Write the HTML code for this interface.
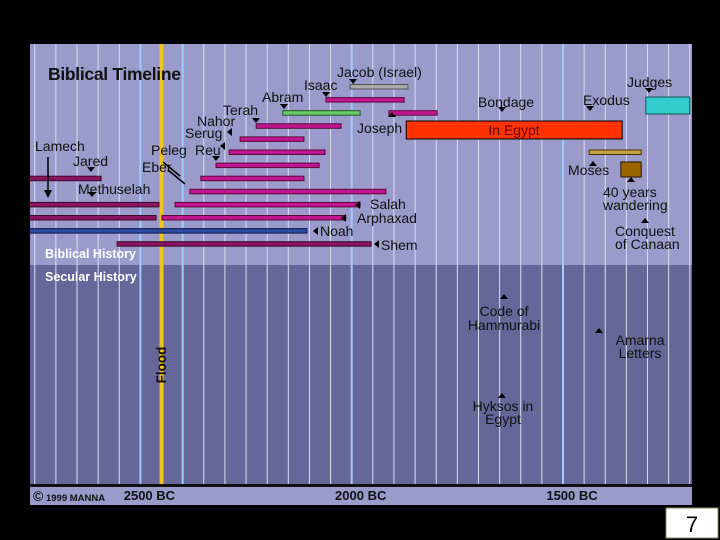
<!DOCTYPE html>
<html><head><meta charset="utf-8"><style>
html,body{margin:0;padding:0;background:#000;width:720px;height:540px;overflow:hidden}
svg{display:block}
text{font-family:"Liberation Sans",Arial,sans-serif}
</style></head><body>
<svg id="chart" width="720" height="540" viewBox="0 0 720 540">
<rect x="0" y="0" width="720" height="540" fill="#000"/>
<defs><clipPath id="plotclip"><rect x="30" y="44" width="662" height="441"/></clipPath></defs>
<rect x="30" y="44" width="662" height="221" fill="#9a9acb"/>
<rect x="30" y="265" width="662" height="220" fill="#666699"/>
<g id="grid" clip-path="url(#plotclip)"></g>
<rect x="30" y="487" width="662" height="18" fill="#9a9acb"/>
<g id="bars" clip-path="url(#plotclip)"></g>
<g id="ticks"></g>
<g font-size="14" fill="#111">
<text x="48" y="80" font-size="17.5" font-weight="bold" letter-spacing="-0.3">Biblical Timeline</text>
<text x="337" y="77">Jacob (Israel)</text>
<text x="304" y="90">Isaac</text>
<text x="262" y="102">Abram</text>
<text x="223" y="115">Terah</text>
<text x="197" y="126">Nahor</text>
<text x="185" y="138">Serug</text>
<text x="195" y="155">Reu</text>
<text x="151" y="155">Peleg</text>
<text x="35" y="151">Lamech</text>
<text x="73" y="166">Jared</text>
<text x="142" y="172">Eber</text>
<text x="78" y="194">Methuselah</text>
<text x="370" y="209">Salah</text>
<text x="357" y="223">Arphaxad</text>
<text x="320" y="236">Noah</text>
<text x="381" y="250">Shem</text>
<text x="357" y="133">Joseph</text>
<text x="478" y="107">Bondage</text>
<text x="583" y="105">Exodus</text>
<text x="627" y="87">Judges</text>
<text x="568" y="175">Moses</text>
<text x="603" y="197">40 years</text>
<text x="603" y="210">wandering</text>
<text x="615" y="236">Conquest</text>
<text x="615" y="249">of Canaan</text>
<text x="504" y="316" text-anchor="middle">Code of</text>
<text x="504" y="330" text-anchor="middle">Hammurabi</text>
<text x="640" y="345" text-anchor="middle">Amarna</text>
<text x="640" y="358" text-anchor="middle">Letters</text>
<text x="503" y="411" text-anchor="middle">Hyksos in</text>
<text x="503" y="424" text-anchor="middle">Egypt</text>
<text x="45" y="258" fill="#fff" font-weight="bold" font-size="12.5">Biblical History</text>
<text x="45" y="281" fill="#fff" font-weight="bold" font-size="12.5">Secular History</text>
<text x="33" y="501" font-size="14" font-weight="bold">©<tspan font-size="9.5"> 1999 MANNA</tspan></text>
</g>
<g id="flood-label-g"><text transform="translate(166,365) rotate(-90)" text-anchor="middle" font-weight="bold" font-size="13.5" fill="#111">Flood</text></g>
<g fill="#000">
<path d="M349,79 l8,0 l-4,5z M322,92 l8,0 l-4,5z M280,104 l8,0 l-4,5z M252,118 l8,0 l-4,5z M88,192 l8,0 l-4,5z M87,167 l8,0 l-4,5z M212,156 l8,0 l-4,5z M498,107 l8,0 l-4,5z M586,106 l8,0 l-4,5z M645,88 l8,0 l-4,5z"/>
<path d="M388,117 l8,0 l-4,-5z M589,166 l8,0 l-4,-5z M627,182 l8,0 l-4,-5z M641,223 l8,0 l-4,-5z M500,299 l8,0 l-4,-5z M595,333 l8,0 l-4,-5z M498,398 l8,0 l-4,-5z"/>
<path d="M360,201 l0,8 l-5,-4z M346,214 l0,8 l-5,-4z M318,227 l0,8 l-5,-4z M379,240 l0,8 l-5,-4z M232,128 l0,8 l-5,-4z M225,142 l0,8 l-5,-4z"/>
<path d="M48,157 L48,192" stroke="#000" stroke-width="1.5"/><path d="M44,190 l8,0 l-4,8z"/>
<path d="M168,170 L185,184 M163,162 L180,176" stroke="#000" stroke-width="1.5"/>
</g>
<text id="egypt-label" x="514" y="135" font-size="14" fill="#660000" text-anchor="middle">In Egypt</text>
<rect x="666" y="508" width="52" height="30" fill="#fff" stroke="#886"/>
<text x="692" y="532" font-size="22" text-anchor="middle" fill="#000">7</text>
</svg>
<script>
// Data (years BC)
const barNames = ["jacob","isaac","abram","joseph","terah","nahor","serug","reu","peleg","eber","salah","arphaxad","noah","shem","jared","methuselah","lamech","in-egypt","judges","moses","wandering"];
const barStart = [2004,2061,2163,1912,2226,2264,2290,2321,2357,2383,2418,2449,2800,2555,2800,2800,2800,1871,1304,1438,1363];
const barEnd   = [1867,1876,1980,1798,2025,2113,2063,2077,2113,1919,1980,2014,2106,1954,2593,2456,2463,1360,1200,1315,1315];
const barRow   = [0,1,2,2,3,4,5,6,7,8,9,10,11,12,7,9,10,3,1,5,6];
const barKind  = ["gray","mag","green","mag","mag","mag","mag","mag","mag","mag","mag","mag","blue","dark","dark","dark","dark","red","cyan","gold","brown"];
const tickYears = [2500,2000,1500];
const tickLabels = ["2500 BC","2000 BC","1500 BC"];
const majorYears = [2500,2400,2000,1500];
const floodYear = 2450;

const NS="http://www.w3.org/2000/svg";
function xScale(y){return 351.7+(2000-y)*0.4226;}
function rowY(r){return 84.5+r*13.1;}
const fills={gray:"#aaaaaa",mag:"#c3158f",green:"#66cc66",blue:"#2d4a9e",dark:"#8a1462",red:"#ff3300",cyan:"#33cccc",gold:"#c9a040",brown:"#996600"};
const strokes={gray:"#555",mag:"#5a0a3a",green:"#225522",blue:"#0a1a4a",dark:"#3a0a28",red:"#000",cyan:"#115555",gold:"#443300",brown:"#221100"};
const grid=document.getElementById('grid');
for(let yr=2750;yr>=1200;yr-=50){
  const l=document.createElementNS(NS,'line');
  const x=xScale(yr);
  const major=majorYears.indexOf(yr)>=0;
  l.setAttribute('x1',x);l.setAttribute('x2',x);l.setAttribute('y1',44);l.setAttribute('y2',485);
  l.setAttribute('stroke',major?'#99ccff':'#dcdcf0');l.setAttribute('stroke-width',major?2:1);
  
  
  grid.appendChild(l);
}
const fl=document.createElementNS(NS,'rect');
fl.setAttribute('x',xScale(floodYear)-2);fl.setAttribute('y',44);fl.setAttribute('width',4);fl.setAttribute('height',441);fl.setAttribute('fill','#f2c21e');


grid.appendChild(fl);
const bars=document.getElementById('bars');
for(let i=0;i<barNames.length;i++){
  const r=document.createElementNS(NS,'rect');
  const x1=xScale(barStart[i]),x2=xScale(barEnd[i]);
  let y=rowY(barRow[i]),h=4.5;
  const k=barKind[i];
  if(k==='red'){y=121;h=18;}
  if(k==='cyan'){y=97;h=17;}
  if(k==='brown'){y=162;h=15;}
  r.setAttribute('x',x1);r.setAttribute('y',y);r.setAttribute('width',x2-x1);r.setAttribute('height',h);
  r.setAttribute('fill',fills[k]);r.setAttribute('stroke',strokes[k]);r.setAttribute('stroke-width',1);
  
  
  bars.appendChild(r);
}
const ticks=document.getElementById('ticks');
const bl=document.createElementNS(NS,'rect');
bl.setAttribute('x',30);bl.setAttribute('y',484);bl.setAttribute('width',662);bl.setAttribute('height',3);bl.setAttribute('fill','#111');


ticks.appendChild(bl);
for(let i=0;i<tickYears.length;i++){
  const t=document.createElementNS(NS,'text');
  t.setAttribute('x',xScale(tickYears[i])+9);t.setAttribute('y',500);t.setAttribute('text-anchor','middle');
  t.setAttribute('font-size','13');t.setAttribute('font-weight','bold');t.setAttribute('fill','#111');
  t.textContent=tickLabels[i];
  
  
  ticks.appendChild(t);
}
</script>
</body></html>
